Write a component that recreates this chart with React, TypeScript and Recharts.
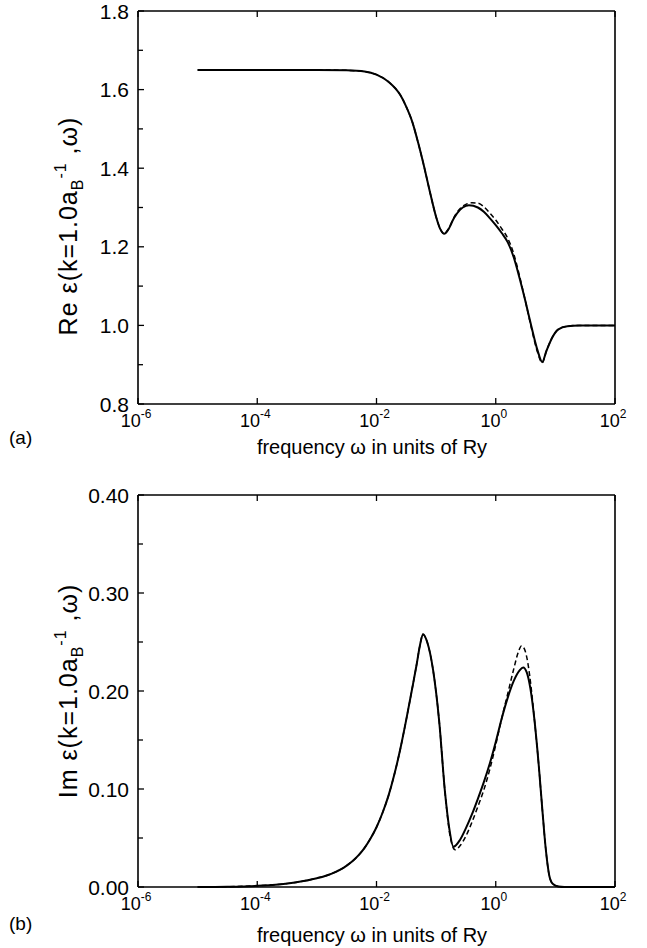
import React from "react";
import { LineChart, Line, XAxis, YAxis, Label } from "recharts";

// frequency as log10(omega / Ry)
const reSolidLog = [-5, -4, -3, -2.5, -2.2, -2.0, -1.8, -1.6, -1.5, -1.4, -1.3, -1.2, -1.1, -1.0, -0.93, -0.86, -0.8, -0.7, -0.6, -0.5, -0.45, -0.3, -0.2, -0.1, 0.0, 0.1, 0.2, 0.3, 0.4, 0.5, 0.6, 0.7, 0.78, 0.85, 0.95, 1.05, 1.2, 1.4, 1.6, 2.0];
const reSolidVal = [1.65, 1.65, 1.65, 1.649, 1.646, 1.638, 1.62, 1.586, 1.556, 1.518, 1.464, 1.403, 1.337, 1.276, 1.245, 1.233, 1.243, 1.273, 1.294, 1.304, 1.306, 1.3, 1.289, 1.273, 1.255, 1.235, 1.212, 1.174, 1.12, 1.06, 0.996, 0.937, 0.907, 0.935, 0.97, 0.99, 0.998, 1.0, 1.0, 1.0];

const reDashLog = [-5, -4, -3, -2.5, -2.2, -2.0, -1.8, -1.6, -1.5, -1.4, -1.3, -1.2, -1.1, -1.0, -0.93, -0.86, -0.8, -0.7, -0.6, -0.5, -0.4, -0.3, -0.2, -0.1, 0.0, 0.1, 0.2, 0.3, 0.4, 0.5, 0.6, 0.7, 0.78, 0.85, 0.95, 1.05, 1.2, 1.4, 1.6, 2.0];
const reDashVal = [1.65, 1.65, 1.65, 1.649, 1.646, 1.638, 1.62, 1.586, 1.556, 1.518, 1.464, 1.403, 1.337, 1.276, 1.245, 1.233, 1.244, 1.275, 1.297, 1.308, 1.312, 1.311, 1.302, 1.286, 1.268, 1.246, 1.222, 1.183, 1.125, 1.06, 0.992, 0.932, 0.905, 0.935, 0.97, 0.99, 0.998, 1.0, 1.0, 1.0];

const imSolidLog = [-5, -4.5, -4.0, -3.8, -3.6, -3.4, -3.2, -3.0, -2.9, -2.8, -2.7, -2.6, -2.5, -2.4, -2.3, -2.2, -2.1, -2.0, -1.9, -1.8, -1.7, -1.6, -1.5, -1.4, -1.33, -1.27, -1.22, -1.15, -1.05, -0.95, -0.85, -0.78, -0.71, -0.6, -0.5, -0.4, -0.3, -0.2, -0.1, 0.0, 0.1, 0.2, 0.3, 0.4, 0.46, 0.52, 0.58, 0.65, 0.72, 0.78, 0.84, 0.9, 0.96, 1.05, 1.15, 2.0];
const imSolidVal = [0, 0.0003, 0.0012, 0.0019, 0.0029, 0.0043, 0.0063, 0.009, 0.0105, 0.0125, 0.015, 0.018, 0.0218, 0.0265, 0.0325, 0.04, 0.0495, 0.061, 0.0755, 0.093, 0.115, 0.141, 0.171, 0.203, 0.226, 0.247, 0.258, 0.25, 0.221, 0.17, 0.096, 0.06, 0.041, 0.048, 0.06, 0.074, 0.09, 0.107, 0.126, 0.148, 0.172, 0.193, 0.21, 0.221, 0.224, 0.219, 0.203, 0.17, 0.125, 0.08, 0.038, 0.011, 0.003, 0.0005, 0, 0];

const imDashLog = [-5, -4.5, -4.0, -3.8, -3.6, -3.4, -3.2, -3.0, -2.9, -2.8, -2.7, -2.6, -2.5, -2.4, -2.3, -2.2, -2.1, -2.0, -1.9, -1.8, -1.7, -1.6, -1.5, -1.4, -1.33, -1.27, -1.22, -1.15, -1.05, -0.95, -0.85, -0.76, -0.68, -0.6, -0.5, -0.4, -0.3, -0.2, -0.1, 0.0, 0.1, 0.2, 0.3, 0.38, 0.43, 0.48, 0.54, 0.6, 0.65, 0.72, 0.78, 0.84, 0.9, 0.96, 1.05, 1.15, 2.0];
const imDashVal = [0, 0.0003, 0.0012, 0.0019, 0.0029, 0.0043, 0.0063, 0.009, 0.0105, 0.0125, 0.015, 0.018, 0.0218, 0.0265, 0.0325, 0.04, 0.0495, 0.061, 0.0755, 0.093, 0.115, 0.141, 0.171, 0.203, 0.226, 0.247, 0.258, 0.25, 0.221, 0.17, 0.096, 0.05, 0.038, 0.042, 0.052, 0.066, 0.082, 0.099, 0.12, 0.145, 0.172, 0.197, 0.222, 0.24, 0.246, 0.243, 0.228, 0.2, 0.17, 0.125, 0.08, 0.038, 0.011, 0.003, 0.0005, 0, 0];

const xTicks = [1e-6, 1e-4, 1e-2, 1, 100];
const reTicks = [0.8, 0.9, 1.0, 1.1, 1.2, 1.3, 1.4, 1.5, 1.6, 1.7, 1.8];
const reLabels = ["0.8", "", "1.0", "", "1.2", "", "1.4", "", "1.6", "", "1.8"];
const imTicks = [0, 0.05, 0.1, 0.15, 0.2, 0.25, 0.3, 0.35, 0.4];
const imLabels = ["0.00", "", "0.10", "", "0.20", "", "0.30", "", "0.40"];

const FONT = '"Liberation Sans", Arial, Helvetica, sans-serif';
const PL = 138;
const PR = 615;

const rows = (logs: number[], vals: number[]) =>
  logs.map((e, i) => ({ w: Math.pow(10, e), v: vals[i] }));

const leftTick = (ticks: number[], labels: string[]) => (props: any) => {
  const { y, payload } = props;
  const lab = labels[ticks.indexOf(payload.value)] || "";
  return (
    <g>
      <line x1={PL} x2={PL + (lab ? 6 : 5)} y1={y} y2={y} stroke="#000" strokeWidth={1.3} />
      {lab && (
        <text x={PL - 9} y={y} dy="0.36em" textAnchor="end" fontSize={21} fontFamily={FONT} fill="#000">
          {lab}
        </text>
      )}
    </g>
  );
};

const rightTick = (ticks: number[], labels: string[]) => (props: any) => {
  const { y, payload } = props;
  const lab = labels[ticks.indexOf(payload.value)] || "";
  return <line x1={PR} x2={PR - (lab ? 6 : 5)} y1={y} y2={y} stroke="#000" strokeWidth={1.3} />;
};

const bottomTick = (pb: number) => (props: any) => {
  const { x, payload } = props;
  const ex = Math.round(Math.log10(payload.value));
  return (
    <g>
      <line x1={x} x2={x} y1={pb} y2={pb - 6} stroke="#000" strokeWidth={1.3} />
      <text x={x - 2} y={pb + 23} textAnchor="middle" fontSize={18} fontFamily={FONT} fill="#000">
        <tspan>10</tspan>
        <tspan dy={-9} fontSize={12}>{ex}</tspan>
      </text>
    </g>
  );
};

const topTick = (pt: number) => (props: any) => {
  const { x } = props;
  return <line x1={x} x2={x} y1={pt} y2={pt + 6} stroke="#000" strokeWidth={1.3} />;
};

const yTitle = (cx: number, cy: number, head: string) => () => (
  <text
    x={cx}
    y={cy}
    transform={`rotate(-90, ${cx}, ${cy})`}
    textAnchor="middle"
    fontSize={25}
    letterSpacing={1}
    fontFamily={FONT}
    fill="#000"
  >
    <tspan>{head} ε(k=1.0a</tspan>
    <tspan dy={6} fontSize={16}>B</tspan>
    <tspan dy={-17} fontSize={16}>-1</tspan>
    <tspan dy={11}> ,ω)</tspan>
  </text>
);

const xTitle = (ty: number, tag: string, tagY: number) => () => (
  <g>
    <text x={372} y={ty} textAnchor="middle" fontSize={20} fontFamily={FONT} fill="#000">
      frequency ω in units of Ry
    </text>
    <text x={9} y={tagY} fontSize={19} fontFamily={FONT} fill="#000">
      {tag}
    </text>
  </g>
);

const axisLine = { stroke: "#000", strokeWidth: 1.6 };

type PanelProps = {
  height: number;
  top: number;
  bottomH: number;
  yDomain: [number, number];
  yTicks: number[];
  yLabels: string[];
  solid: { w: number; v: number }[];
  dashed: { w: number; v: number }[];
  head: string;
  titleCy: number;
  xTitleY: number;
  tag: string;
  tagY: number;
};

function Panel(p: PanelProps) {
  const pb = p.height - p.bottomH;
  return (
    <LineChart
      width={647}
      height={p.height}
      margin={{ top: p.top - 1, right: 647 - PR - 1, bottom: 0, left: 0 }}
    >
      <XAxis
        dataKey="w"
        type="number"
        scale="log"
        domain={[1e-6, 100]}
        allowDataOverflow
        ticks={xTicks}
        height={p.bottomH}
        axisLine={axisLine}
        tickLine={false}
        tick={bottomTick(pb)}
        interval={0}
      >
        <Label content={xTitle(p.xTitleY, p.tag, p.tagY)} />
      </XAxis>
      <XAxis
        xAxisId="top"
        orientation="top"
        dataKey="w"
        type="number"
        scale="log"
        domain={[1e-6, 100]}
        allowDataOverflow
        ticks={xTicks}
        height={1}
        axisLine={axisLine}
        tickLine={false}
        tick={topTick(p.top)}
        interval={0}
      />
      <YAxis
        type="number"
        domain={p.yDomain}
        ticks={p.yTicks}
        width={PL}
        axisLine={axisLine}
        tickLine={false}
        tick={leftTick(p.yTicks, p.yLabels)}
        interval={0}
      >
        <Label content={yTitle(77, p.titleCy, p.head)} />
      </YAxis>
      <YAxis
        yAxisId="right"
        orientation="right"
        type="number"
        domain={p.yDomain}
        ticks={p.yTicks}
        width={1}
        axisLine={axisLine}
        tickLine={false}
        tick={rightTick(p.yTicks, p.yLabels)}
        interval={0}
      />
      <Line
        data={p.dashed}
        dataKey="v"
        type="monotone"
        dot={false}
        stroke="#000"
        strokeWidth={1.5}
        strokeDasharray="5 3"
        isAnimationActive={false}
      />
      <Line
        data={p.solid}
        dataKey="v"
        type="monotone"
        dot={false}
        stroke="#000"
        strokeWidth={2}
        isAnimationActive={false}
      />
    </LineChart>
  );
}

export default function App() {
  return (
    <div style={{ position: "absolute", left: 0, top: 0, width: 647, height: 948, background: "#fff" }}>
      <div style={{ position: "absolute", left: 0, top: 0 }}>
        <Panel
          height={470}
          top={11}
          bottomH={66}
          yDomain={[0.8, 1.8]}
          yTicks={reTicks}
          yLabels={reLabels}
          solid={rows(reSolidLog, reSolidVal)}
          dashed={rows(reDashLog, reDashVal)}
          head="Re"
          titleCy={226}
          xTitleY={454}
          tag="(a)"
          tagY={444}
        />
      </div>
      <div style={{ position: "absolute", left: 0, top: 470 }}>
        <Panel
          height={478}
          top={25}
          bottomH={61}
          yDomain={[0, 0.4]}
          yTicks={imTicks}
          yLabels={imLabels}
          solid={rows(imSolidLog, imSolidVal)}
          dashed={rows(imDashLog, imDashVal)}
          head="Im"
          titleCy={221}
          xTitleY={472}
          tag="(b)"
          tagY={460}
        />
      </div>
    </div>
  );
}
